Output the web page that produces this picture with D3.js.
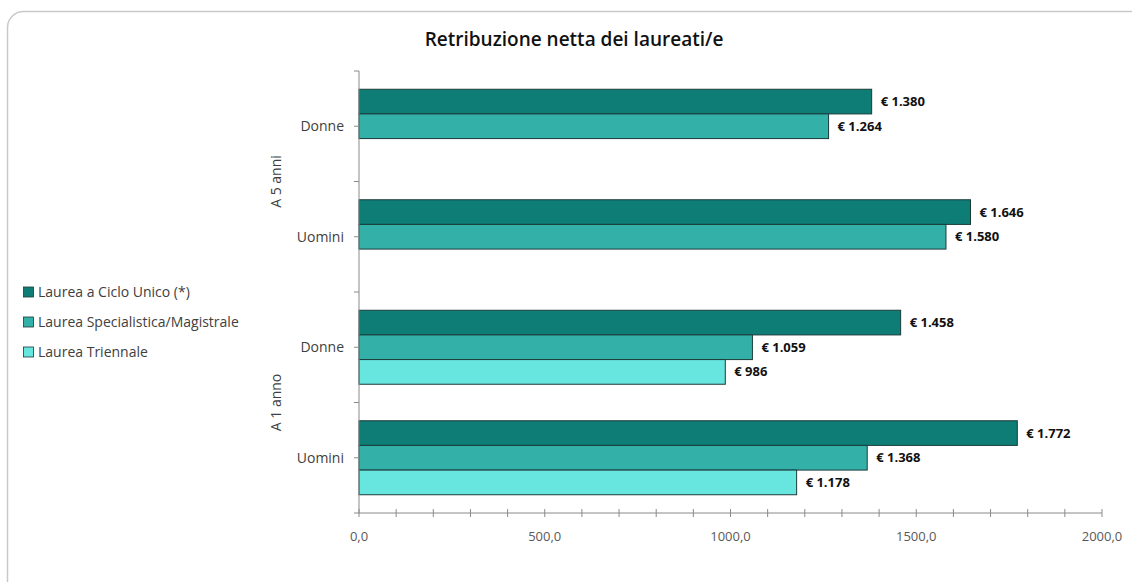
<!DOCTYPE html>
<html lang="it">
<head>
<meta charset="utf-8">
<title>Retribuzione netta dei laureati/e</title>
<script src="https://cdnjs.cloudflare.com/ajax/libs/d3/7.8.5/d3.min.js"></script>
<style>
  body { margin: 0; background: #fff; }
  svg { display: block; font-family: "Open Sans", "Noto Sans", sans-serif; }
  .tick-lbl { font-size: 13px; fill: #595959; }
  .cat-lbl { font-size: 14px; fill: #404040; }
  .val-lbl { font-size: 13px; font-weight: 700; fill: #111; }
  .leg-lbl { font-size: 14px; fill: #404040; }
</style>
</head>
<body>
<div id="chart"></div>
<script>
// --- data ---
const groups = ["A 5 anni", "A 5 anni", "A 1 anno", "A 1 anno"];
const categories = ["Donne", "Uomini", "Donne", "Uomini"];
const seriesNames = ["Laurea a Ciclo Unico (*)", "Laurea Specialistica/Magistrale", "Laurea Triennale"];
const cicloUnico = [1380, 1646, 1458, 1772];
const specialistica = [1264, 1580, 1059, 1368];
const triennale = [null, null, 986, 1178];
const xTicks = [0, 500, 1000, 1500, 2000];
const colors = ["#0d7d76", "#33b1a9", "#67e5df"];

const W = 1132, H = 582;
const svg = d3.select("#chart").append("svg").attr("width", W).attr("height", H);

// frame
svg.append("rect")
  .attr("x", 7.5).attr("y", 11.5)
  .attr("width", 1140).attr("height", 600)
  .attr("rx", 16).attr("ry", 16)
  .attr("fill", "#fff").attr("stroke", "#c9c9c9").attr("stroke-width", 1.5);

svg.append("text")
  .attr("x", 574).attr("y", 46)
  .attr("text-anchor", "middle")
  .style("font-size", "19px").style("font-weight", 600).style("fill", "#111")
  .text("Retribuzione netta dei laureati/e");

const pL = 359, pR = 1102, pT = 71, pB = 513;

const x = d3.scaleLinear().domain([0, 2000]).range([pL, pR]);
const rows = d3.range(categories.length);
const y = d3.scaleBand().domain(rows).range([pT, pB]).paddingInner(0).paddingOuter(0);
const series = [cicloUnico, specialistica, triennale];
const ySub = d3.scaleBand().domain(d3.range(series.length)).range([0, y.bandwidth()]).paddingInner(0).paddingOuter(0.74);

// bars
series.forEach((vals, s) => {
  svg.append("g").selectAll("rect")
    .data(rows.filter(i => vals[i] != null))
    .join("rect")
    .attr("x", x(0))
    .attr("y", i => y(i) + ySub(s))
    .attr("width", i => x(vals[i]) - x(0))
    .attr("height", ySub.bandwidth())
    .attr("fill", colors[s])
    .attr("stroke", "#1c3b3a").attr("stroke-width", 1);

  svg.append("g").selectAll("text")
    .data(rows.filter(i => vals[i] != null))
    .join("text")
    .attr("class", "val-lbl")
    .attr("x", i => x(vals[i]) + 9)
    .attr("y", i => y(i) + ySub(s) + ySub.bandwidth() / 2)
    .attr("dy", "0.35em")
    .text(i => "€ " + d3.format(",")(vals[i]).replace(/,/g, "."));
});

// x axis
const xAxis = svg.append("g").attr("transform", `translate(0,${pB})`);
xAxis.append("line").attr("x1", pL).attr("x2", pR).attr("stroke", "#8a8a8a");
xAxis.selectAll("line.minor")
  .data(d3.range(0, 2001, 100))
  .join("line")
  .attr("class", "minor")
  .attr("x1", d => x(d)).attr("x2", d => x(d))
  .attr("y1", -4).attr("y2", 4)
  .attr("stroke", "#8a8a8a");
xAxis.selectAll("text")
  .data(xTicks)
  .join("text")
  .attr("class", "tick-lbl")
  .attr("x", d => x(d)).attr("y", 28)
  .attr("text-anchor", "middle")
  .text(d => d3.format(".1f")(d).replace(".", ","));

// y axis
const yAxis = svg.append("g");
yAxis.append("line").attr("x1", pL).attr("x2", pL).attr("y1", pT).attr("y2", pB).attr("stroke", "#8a8a8a");
yAxis.selectAll("line.tk")
  .data(d3.range(0, categories.length * 2 + 1))
  .join("line")
  .attr("class", "tk")
  .attr("x1", pL - 5).attr("x2", pL)
  .attr("y1", k => pT + k * y.bandwidth() / 2)
  .attr("y2", k => pT + k * y.bandwidth() / 2)
  .attr("stroke", "#8a8a8a");
yAxis.selectAll("text.cat")
  .data(rows)
  .join("text")
  .attr("class", "cat-lbl cat")
  .attr("x", 344)
  .attr("y", i => y(i) + y.bandwidth() / 2)
  .attr("dy", "0.35em")
  .attr("text-anchor", "end")
  .text(i => categories[i]);

// group labels (rotated)
const groupNames = Array.from(new Set(groups));
groupNames.forEach(g => {
  const idx = rows.filter(i => groups[i] === g);
  const cy = (y(idx[0]) + y(idx[idx.length - 1]) + y.bandwidth()) / 2;
  svg.append("text")
    .attr("class", "cat-lbl")
    .attr("transform", `translate(281,${cy}) rotate(-90)`)
    .attr("text-anchor", "middle")
    .text(g);
});

// legend
const leg = svg.append("g").attr("transform", "translate(23,292)");
seriesNames.forEach((name, s) => {
  const g = leg.append("g").attr("transform", `translate(0,${s * 30})`);
  g.append("rect").attr("x", 0.5).attr("y", -5).attr("width", 10).attr("height", 10)
    .attr("fill", colors[s]).attr("stroke", "#1c3b3a").attr("stroke-width", 0.8);
  g.append("text").attr("class", "leg-lbl").attr("x", 15).attr("y", 0).attr("dy", "0.35em").text(name);
});
</script>
</body>
</html>
